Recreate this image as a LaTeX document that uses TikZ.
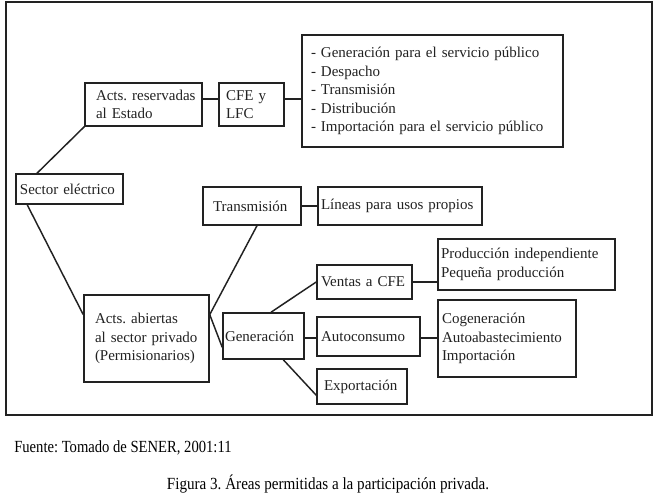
\documentclass[tikz,border=0pt]{standalone}
\usepackage{fontspec}
\setmainfont{Liberation Serif}
\newfontfamily\srcfont[FakeStretch=0.86]{Liberation Serif}
\newfontfamily\capfont[FakeStretch=0.89]{Liberation Serif}
\usetikzlibrary{calc}
\definecolor{ink}{HTML}{222222}
\frenchspacing
\tikzset{
  boxst/.style={draw=ink, line width=1.1pt, rectangle, inner ysep=0pt, align=left,
    font=\fontsize{11.25}{13.9}\selectfont, text=ink},
  conn/.style={draw=ink, line width=1.1pt},
  captext/.style={text=black, inner sep=0pt}
}
\newcommand\dbox[7]{%
  \pgfmathsetmacro\dbW{(#4-#2-2*#6)*0.75}%
  \pgfmathsetmacro\dbH{(#5-#3)*0.75}%
  \pgfmathsetmacro\dbP{#6*0.75}%
  \node[boxst, minimum height=\dbH pt, text width=\dbW pt, inner xsep=\dbP pt] (#1) at ({(#2+#4)/2},{(#3+#5)/2}) {#7};}
\begin{document}
\begin{tikzpicture}[x=0.75pt,y=-0.75pt]
\useasboundingbox (0,0) rectangle (662,501);
\fill[white] (0,0) rectangle (662,501);
\draw[draw=ink, line width=1.1pt] (6,2) rectangle (652,415);
\dbox{res}{85}{83}{202}{126}{11}{\mbox{Acts.\ reservadas}\\\mbox{al Estado}}
\dbox{cfe}{219}{83}{284}{126}{7}{\mbox{CFE y}\\\mbox{LFC}}
\dbox{lst}{302}{35}{563}{147}{9}{\mbox{- Generación para el servicio público}\\\mbox{- Despacho}\\\mbox{- Transmisión}\\\mbox{- Distribución}\\\mbox{- Importación para el servicio público}}
\dbox{sec}{16}{174}{123}{204}{4}{\mbox{Sector eléctrico}}
\dbox{tra}{203}{187}{301}{225}{10}{\mbox{Transmisión}}
\dbox{lin}{318}{187}{482}{225}{3}{\mbox{Líneas para usos propios}}
\dbox{abi}{84}{295}{209}{382}{11}{\mbox{Acts.\ abiertas}\\\mbox{al sector privado}\\\mbox{(Permisionarios)}}
\dbox{gen}{223}{313}{304}{359}{2}{\mbox{Generación}}
\dbox{ven}{317}{265}{412}{299}{4}{\mbox{Ventas a CFE}}
\dbox{aut}{317}{317}{420}{356}{4}{\mbox{Autoconsumo}}
\dbox{exp}{317}{369}{407}{404}{7}{\mbox{Exportación}}
\dbox{pro}{438}{239}{615}{290}{3}{\mbox{Producción independiente}\\\mbox{Pequeña producción}}
\dbox{cog}{438}{300}{576}{377}{4}{\mbox{Cogeneración}\\\mbox{Autoabastecimiento}\\\mbox{Importación}}
\coordinate (yA) at (0,99);
\coordinate (yB) at (0,338);
\coordinate (aOut) at ($(abi.north east)!0.23!(abi.south east)$);
\draw[conn] ($(sec.north west)!0.2!(sec.north east)$) -- (res.south west);
\draw[conn] ($(sec.south west)!0.11!(sec.south east)$) -- ($(abi.north west)!0.23!(abi.south west)$);
\draw[conn] (res.east |- yA) -- (cfe.west |- yA);
\draw[conn] (cfe.east |- yA) -- (lst.west |- yA);
\draw[conn] (aOut) -- ($(tra.south west)!0.55!(tra.south east)$);
\draw[conn] (aOut) -- ($(gen.north west)!0.74!(gen.south west)$);
\draw[conn] (tra.east) -- (lin.west);
\draw[conn] ($(gen.north west)!0.59!(gen.north east)$) -- (ven.west);
\draw[conn] (gen.east |- yB) -- (aut.west |- yB);
\draw[conn] ($(gen.south west)!0.74!(gen.south east)$) -- ($(exp.north west)!0.74!(exp.south west)$);
\draw[conn] (ven.east) -- (pro.west |- ven.east);
\draw[conn] (aut.east |- yB) -- (cog.west |- yB);
\node[captext, anchor=west, font=\srcfont\fontsize{12.75}{15}\selectfont] (src) at (14,448) {Fuente: Tomado de SENER, 2001:11};
\node[captext, font=\capfont\fontsize{12.75}{15}\selectfont] (cap) at (328,484) {Figura 3. Áreas permitidas a la participación privada.};
\end{tikzpicture}
\end{document}
